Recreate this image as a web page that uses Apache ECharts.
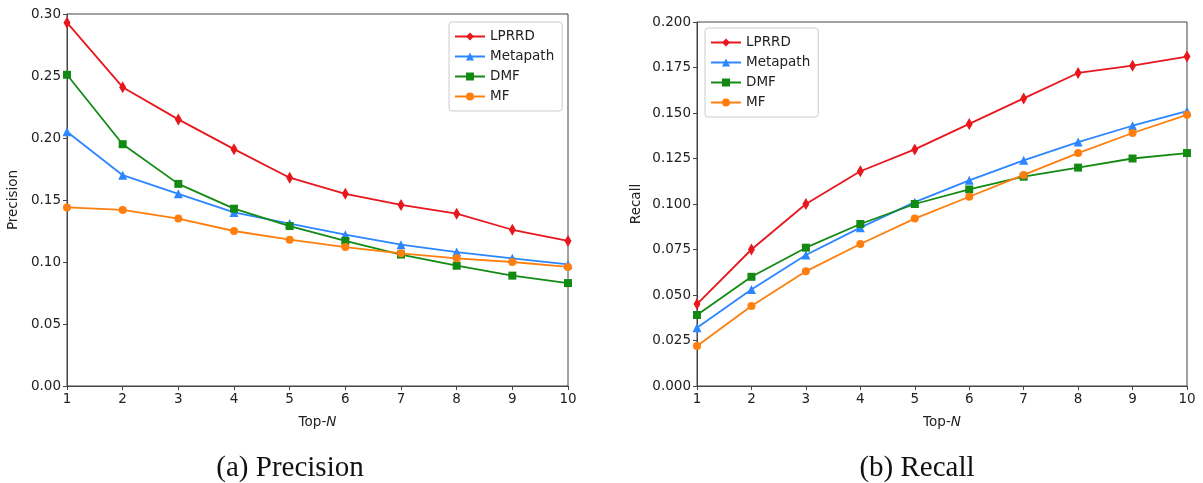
<!DOCTYPE html>
<html>
<head>
<meta charset="utf-8">
<script src="https://cdn.jsdelivr.net/npm/echarts@6/dist/echarts.min.js"></script>
<style>
  html, body { margin: 0; padding: 0; background: #fff; }
  #chart { width: 1203px; height: 483px; }
</style>
</head>
<body>
<div id="chart"></div>
<script>
// Top-N
const topN = [1, 2, 3, 4, 5, 6, 7, 8, 9, 10]
const methods = ['LPRRD', 'Metapath', 'DMF', 'MF']

// (a) Precision
const precLPRRD = [0.293, 0.241, 0.215, 0.191, 0.168, 0.155, 0.146, 0.139, 0.126, 0.117]
const precMetapath = [0.205, 0.170, 0.155, 0.140, 0.131, 0.122, 0.114, 0.108, 0.103, 0.098]
const precDMF = [0.251, 0.195, 0.163, 0.143, 0.129, 0.117, 0.106, 0.097, 0.089, 0.083]
const precMF = [0.144, 0.142, 0.135, 0.125, 0.118, 0.112, 0.107, 0.103, 0.100, 0.096]

// (b) Recall
const recLPRRD = [0.045, 0.075, 0.100, 0.118, 0.130, 0.144, 0.158, 0.172, 0.176, 0.181]
const recMetapath = [0.032, 0.053, 0.072, 0.087, 0.101, 0.113, 0.124, 0.134, 0.143, 0.151]
const recDMF = [0.039, 0.060, 0.076, 0.089, 0.100, 0.108, 0.115, 0.120, 0.125, 0.128]
const recMF = [0.022, 0.044, 0.063, 0.078, 0.092, 0.104, 0.116, 0.128, 0.139, 0.149]

const COLORS = { LPRRD: '#e8171d', Metapath: '#2b86ff', DMF: '#138a13', MF: '#ff7f0e' }
const SYMBOLS = {
  LPRRD: { symbol: 'diamond', symbolSize: [7, 12] },
  Metapath: { symbol: 'triangle', symbolSize: 9 },
  DMF: { symbol: 'rect', symbolSize: 8 },
  MF: { symbol: 'circle', symbolSize: 8 },
}

const FONT = 'DejaVu Sans'
const FS = 13.5

function mkSeries(name, vals, idx) {
  return {
    name,
    type: 'line',
    xAxisIndex: idx,
    yAxisIndex: idx,
    data: topN.map((n, i) => [n, vals[i]]),
    symbol: SYMBOLS[name].symbol,
    symbolSize: SYMBOLS[name].symbolSize,
    showSymbol: true,
    lineStyle: { width: 1.8, color: COLORS[name] },
    itemStyle: { color: COLORS[name] },
    emphasis: { disabled: true },
    animation: false,
  }
}

function xAx(idx) {
  return {
    type: 'value',
    gridIndex: idx,
    min: 1,
    max: 10,
    interval: 1,
    name: '{a|Top-}{b|N}',
    nameLocation: 'middle',
    nameGap: 29,
    nameTextStyle: {
      rich: {
        a: { fontFamily: FONT, fontSize: FS, color: '#222' },
        b: { fontFamily: FONT, fontSize: FS, color: '#222', fontStyle: 'italic' },
      },
    },
    axisLine: { show: true, lineStyle: { color: '#444', width: 1 } },
    axisTick: { show: true, length: 4, lineStyle: { color: '#444' } },
    axisLabel: { fontFamily: FONT, fontSize: FS, color: '#222', margin: 6 },
    splitLine: { show: false },
  }
}

function yAx(idx, max, interval, digits, name) {
  return {
    type: 'value',
    gridIndex: idx,
    min: 0,
    max,
    interval,
    name,
    nameLocation: 'middle',
    nameGap: digits === 2 ? 47 : 54,
    nameTextStyle: { fontFamily: FONT, fontSize: FS, color: '#222' },
    axisLine: { show: true, lineStyle: { color: '#444', width: 1 } },
    axisTick: { show: true, length: 4, lineStyle: { color: '#444' } },
    axisLabel: {
      fontFamily: FONT, fontSize: FS, color: '#222', margin: 6,
      formatter: (v) => v.toFixed(digits),
    },
    splitLine: { show: false },
  }
}

function legendAt(pos) {
  return Object.assign({
    data: methods,
    orient: 'vertical',
    itemWidth: 30,
    itemHeight: 10,
    itemGap: 5,
    padding: [7, 8, 7, 5],
    borderColor: '#cccccc',
    borderWidth: 1,
    borderRadius: 3,
    backgroundColor: 'rgba(255,255,255,0.85)',
    selectedMode: false,
    textStyle: { fontFamily: FONT, fontSize: FS, color: '#222', lineHeight: 15 },
  }, pos)
}

const CAPTION = { fontFamily: 'Liberation Serif', fontSize: 29, fontWeight: 'normal', color: '#111' }

const chart = echarts.init(document.getElementById('chart'), null, { renderer: 'canvas' })
chart.setOption({
  animation: false,
  grid: [
    { left: 67, top: 14, width: 501, height: 372, show: true, borderColor: '#444', borderWidth: 1, backgroundColor: 'transparent' },
    { left: 697, top: 22, width: 490, height: 364, show: true, borderColor: '#444', borderWidth: 1, backgroundColor: 'transparent' },
  ],
  xAxis: [xAx(0), xAx(1)],
  yAxis: [yAx(0, 0.30, 0.05, 2, 'Precision'), yAx(1, 0.200, 0.025, 3, 'Recall')],
  legend: [legendAt({ left: 449, top: 22 }), legendAt({ left: 705, top: 28 })],
  title: [
    { text: '(a) Precision', left: 285, top: 449, textAlign: 'center', textStyle: CAPTION },
    { text: '(b) Recall', left: 912, top: 449, textAlign: 'center', textStyle: CAPTION },
  ],
  series: [
    mkSeries('LPRRD', precLPRRD, 0),
    mkSeries('Metapath', precMetapath, 0),
    mkSeries('DMF', precDMF, 0),
    mkSeries('MF', precMF, 0),
    mkSeries('LPRRD', recLPRRD, 1),
    mkSeries('Metapath', recMetapath, 1),
    mkSeries('DMF', recDMF, 1),
    mkSeries('MF', recMF, 1),
  ],
})
</script>
</body>
</html>
